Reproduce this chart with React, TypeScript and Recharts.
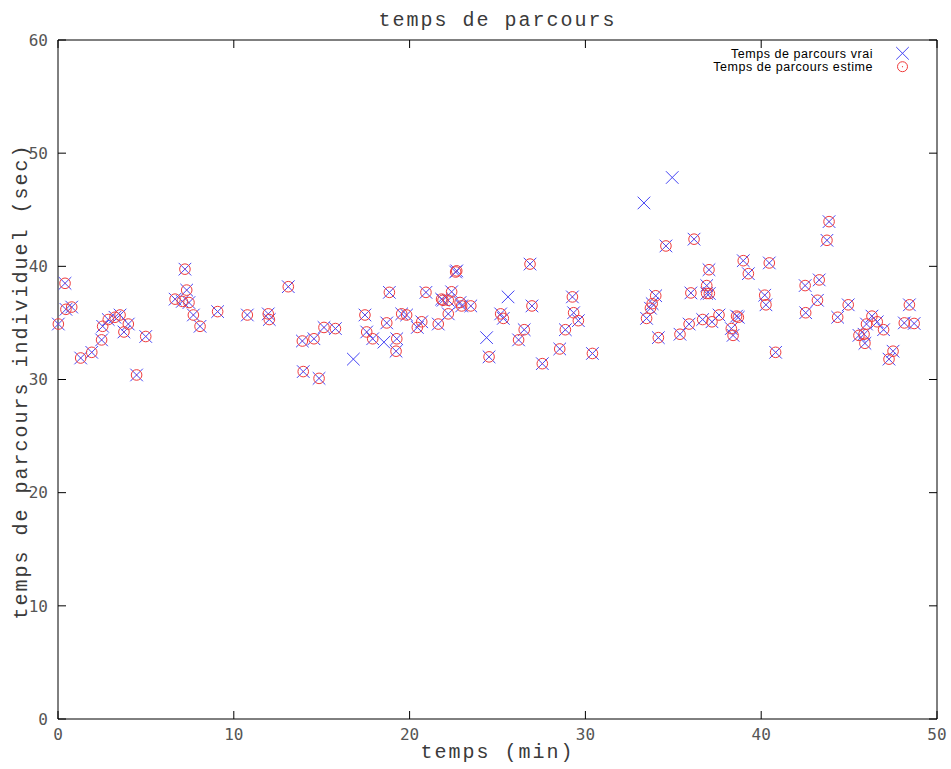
import React from 'react';
import { ScatterChart, Scatter, XAxis, YAxis, ReferenceArea, Legend } from 'recharts';

// temps (min)
const times: number[] = [
  0.02, 0.4, 0.45, 0.78, 1.29, 1.92, 2.48, 2.54, 2.86, 3.24, 3.53, 3.75, 4.0, 4.47, 4.99,
  6.66, 7.07, 7.22, 7.32, 7.45, 7.7, 8.08, 9.08, 10.77, 11.96, 12.02, 13.1, 13.9, 13.95,
  14.56, 14.85, 15.13, 15.78, 16.8, 17.46, 17.56, 17.9, 18.54, 18.7, 18.85, 19.23, 19.27,
  19.55, 19.83, 20.44, 20.69, 20.93, 21.63, 21.82, 21.9, 22.2, 22.2, 22.39, 22.62, 22.68,
  22.87, 22.96, 23.48, 24.38, 24.52, 25.18, 25.33, 25.6, 26.2, 26.52, 26.85, 26.96, 27.55,
  28.54, 28.86, 29.26, 29.33, 29.6, 30.4, 33.33, 33.48, 33.7, 33.8, 34.0, 34.15, 34.58,
  34.94, 35.38, 35.9, 36.0, 36.18, 36.67, 36.9, 37.05, 36.9, 37.03, 37.2, 37.6, 38.3, 38.4,
  38.6, 38.7, 38.98, 39.27, 40.2, 40.27, 40.46, 40.82, 42.5, 42.53, 43.2, 43.3, 43.74,
  43.86, 44.35, 44.95, 45.56, 45.85, 45.9, 45.99, 46.3, 46.6, 46.96, 47.27, 47.5, 48.14,
  48.43, 48.7,
];

// Temps de parcours vrai (sec)
const vrai: number[] = [
  34.9, 38.5, 36.2, 36.4, 31.9, 32.4, 33.5, 34.7, 35.3, 35.5, 35.7, 34.2, 34.9, 30.4, 33.8,
  37.1, 36.9, 39.75, 37.9, 36.8, 35.7, 34.7, 36.0, 35.7, 35.8, 35.3, 38.2, 33.4, 30.7,
  33.6, 30.1, 34.6, 34.5, 31.8, 35.7, 34.2, 33.6, 33.3, 35.0, 37.7, 32.5, 33.6,
  35.8, 35.7, 34.6, 35.1, 37.7, 34.9, 37.1, 37.0, 37.0, 35.8, 37.75, 39.5, 39.6,
  36.8, 36.5, 36.5, 33.7, 32.0, 35.8, 35.4, 37.3, 33.5, 34.4, 40.2, 36.5, 31.4,
  32.7, 34.4, 37.3, 35.9, 35.2, 32.3, 45.6, 35.4, 36.3, 36.7, 37.4, 33.7, 41.8,
  47.85, 34.0, 34.9, 37.65, 42.4, 35.3, 37.6, 37.6, 38.3, 39.7, 35.1, 35.7, 34.5, 33.9,
  35.6, 35.5, 40.5, 39.35, 37.45, 36.6, 40.3, 32.4, 38.3, 35.9, 37.0, 38.8, 42.3,
  43.95, 35.5, 36.6, 33.9, 34.0, 33.2, 34.9, 35.6, 35.1, 34.4, 31.8, 32.5, 35.0,
  36.6, 34.95,
];

// Temps de parcours estime (sec) - null where the estimate is not visible
const estime: (number | null)[] = [
  34.9, 38.5, 36.2, 36.4, 31.9, 32.4, 33.5, 34.7, 35.3, 35.5, 35.7, 34.2, 34.9, 30.4, 33.8,
  37.1, 36.9, 39.75, 37.9, 36.8, 35.7, 34.7, 36.0, 35.7, 35.8, 35.3, 38.2, 33.4, 30.7,
  33.6, 30.1, 34.6, 34.5, null, 35.7, 34.2, 33.6, null, 35.0, 37.7, 32.5, 33.6,
  35.8, 35.7, 34.6, 35.1, 37.7, 34.9, 37.1, 37.0, 37.0, 35.8, 37.75, 39.5, 39.6,
  36.8, 36.5, 36.5, null, 32.0, 35.8, 35.4, null, 33.5, 34.4, 40.2, 36.5, 31.4,
  32.7, 34.4, 37.3, 35.9, 35.2, 32.3, null, 35.4, 36.3, 36.7, 37.4, 33.7, 41.8,
  null, 34.0, 34.9, 37.65, 42.4, 35.3, 37.6, 37.6, 38.3, 39.7, 35.1, 35.7, 34.5, 33.9,
  35.6, 35.5, 40.5, 39.35, 37.45, 36.6, 40.3, 32.4, 38.3, 35.9, 37.0, 38.8, 42.3,
  43.95, 35.5, 36.6, 33.9, 34.0, 33.2, 34.9, 35.6, 35.1, 34.4, 31.8, 32.5, 35.0,
  36.6, 34.95,
];

const xTicks = [0, 10, 20, 30, 40, 50];
const yTicks = [0, 10, 20, 30, 40, 50, 60];

const TITLE = 'temps de parcours';
const X_LABEL = 'temps (min)';
const Y_LABEL = 'temps de parcours individuel (sec)';
const LEGEND_VRAI = 'Temps de parcours vrai';
const LEGEND_ESTIME = 'Temps de parcours estime';

const vraiData = times.map((t, i) => ({ x: t, y: vrai[i] }));
const estimeData = times
  .map((t, i) => ({ x: t, y: estime[i] }))
  .filter((d) => d.y !== null);

const W = 951;
const H = 769;
const M = { top: 40, right: 14, left: 0, bottom: 0 };
const Y_AXIS_W = 58;
const X_AXIS_H = 50;
const PLOT_W = W - M.left - M.right - Y_AXIS_W;
const PLOT_H = H - M.top - M.bottom - X_AXIS_H;
const TICK_LEN = 8;

const BLUE = '#4444f4';
const RED = '#f03c3c';
const MONO = '"Liberation Mono", "Courier New", monospace';
const TICK_FONT = '"DejaVu Sans Mono", monospace';
const TITLE_SIZE = 20;
const TITLE_SPACING = 2;
const TITLE_FILL = '#3a3a3a';

const XMark = ({ cx, cy, r = 6.3 }: any) => {
  if (cx == null || cy == null) return null;
  return (
    <g>
      <line x1={cx - r} y1={cy - r} x2={cx + r} y2={cy + r} stroke={BLUE} strokeWidth={1} />
      <line x1={cx - r} y1={cy + r} x2={cx + r} y2={cy - r} stroke={BLUE} strokeWidth={1} />
    </g>
  );
};

const CircleMark = ({ cx, cy, r = 5.3 }: any) => {
  if (cx == null || cy == null) return null;
  return (
    <g>
      <circle cx={cx} cy={cy} r={r} fill="none" stroke={RED} strokeWidth={1} />
      <circle cx={cx} cy={cy} r={0.6} fill={RED} />
    </g>
  );
};

const XTick = ({ x, y, payload }: any) => (
  <g>
    <line x1={x} y1={y} x2={x} y2={y - TICK_LEN} stroke="#000" />
    <line x1={x} y1={y - PLOT_H} x2={x} y2={y - PLOT_H + TICK_LEN} stroke="#000" />
    <text x={x} y={y + 21} textAnchor="middle" fontFamily={TICK_FONT} fontSize={16} fill="#555">
      {payload.value}
    </text>
  </g>
);

const YTick = ({ x, y, payload }: any) => (
  <g>
    <line x1={x} y1={y} x2={x + TICK_LEN} y2={y} stroke="#000" />
    <line x1={x + PLOT_W} y1={y} x2={x + PLOT_W - TICK_LEN} y2={y} stroke="#000" />
    <text x={x - 10} y={y} dy="0.36em" textAnchor="end" fontFamily={TICK_FONT} fontSize={16} fill="#555">
      {payload.value}
    </text>
  </g>
);

const XLabel = ({ viewBox }: any) => (
  <text
    x={viewBox.x + viewBox.width / 2}
    y={viewBox.y + 39}
    textAnchor="middle"
    fontFamily={MONO}
    fontSize={TITLE_SIZE}
    letterSpacing={TITLE_SPACING}
    fill={TITLE_FILL}
  >
    {X_LABEL}
  </text>
);

const YLabel = ({ viewBox }: any) => {
  const cx = 26.5;
  const cy = viewBox.y + viewBox.height / 2 + 2;
  return (
    <text
      x={cx}
      y={cy}
      transform={`rotate(-90 ${cx} ${cy})`}
      textAnchor="middle"
      fontFamily={MONO}
      fontSize={TITLE_SIZE}
      letterSpacing={TITLE_SPACING}
      fill={TITLE_FILL}
    >
      {Y_LABEL}
    </text>
  );
};

const TitleLabel = ({ viewBox }: any) => (
  <text
    x={viewBox.x + viewBox.width / 2}
    y={viewBox.y - 14}
    textAnchor="middle"
    fontFamily={MONO}
    fontSize={TITLE_SIZE}
    letterSpacing={TITLE_SPACING}
    fill={TITLE_FILL}
  >
    {TITLE}
  </text>
);

const LEGEND_FONT = '"Liberation Sans", Arial, sans-serif';

const LegendContent = () => (
  <svg width={260} height={40} style={{ display: 'block', overflow: 'visible' }}>
    <text x={193} y={17.8} textAnchor="end" fontFamily={LEGEND_FONT} fontSize={12.5} letterSpacing={0.55} fill="#000">
      {LEGEND_VRAI}
    </text>
    <XMark cx={222.5} cy={13.3} />
    <text x={193} y={30.8} textAnchor="end" fontFamily={LEGEND_FONT} fontSize={12.5} letterSpacing={0.55} fill="#000">
      {LEGEND_ESTIME}
    </text>
    <CircleMark cx={222.5} cy={26.7} r={5} />
  </svg>
);

export default function App() {
  return (
    <div style={{ position: 'absolute', left: 0, top: 0, width: W, height: H, background: '#fff' }}>
      <ScatterChart width={W} height={H} margin={M}>
        <XAxis
          type="number"
          dataKey="x"
          domain={[0, 50]}
          ticks={xTicks}
          interval={0}
          height={X_AXIS_H}
          axisLine={false}
          tickLine={false}
          tickSize={0}
          tickMargin={0}
          tick={<XTick />}
          label={<XLabel />}
        />
        <YAxis
          type="number"
          dataKey="y"
          domain={[0, 60]}
          ticks={yTicks}
          interval={0}
          width={Y_AXIS_W}
          axisLine={false}
          tickLine={false}
          tickSize={0}
          tickMargin={0}
          tick={<YTick />}
          label={<YLabel />}
        />
        <ReferenceArea
          x1={0}
          x2={50}
          y1={0}
          y2={60}
          fill="none"
          fillOpacity={0}
          stroke="#000"
          strokeWidth={1}
          strokeOpacity={1}
          label={<TitleLabel />}
        />
        <Legend
          layout="vertical"
          align="center"
          verticalAlign="middle"
          content={<LegendContent />}
          wrapperStyle={{ position: 'absolute', left: 680, top: 40, width: 260, height: 40 }}
        />
        <Scatter
          name={LEGEND_VRAI}
          data={vraiData}
          shape={(p: any) => <XMark cx={p.cx} cy={p.cy} />}
          isAnimationActive={false}
        />
        <Scatter
          name={LEGEND_ESTIME}
          data={estimeData}
          shape={(p: any) => <CircleMark cx={p.cx} cy={p.cy} />}
          isAnimationActive={false}
        />
      </ScatterChart>
    </div>
  );
}
